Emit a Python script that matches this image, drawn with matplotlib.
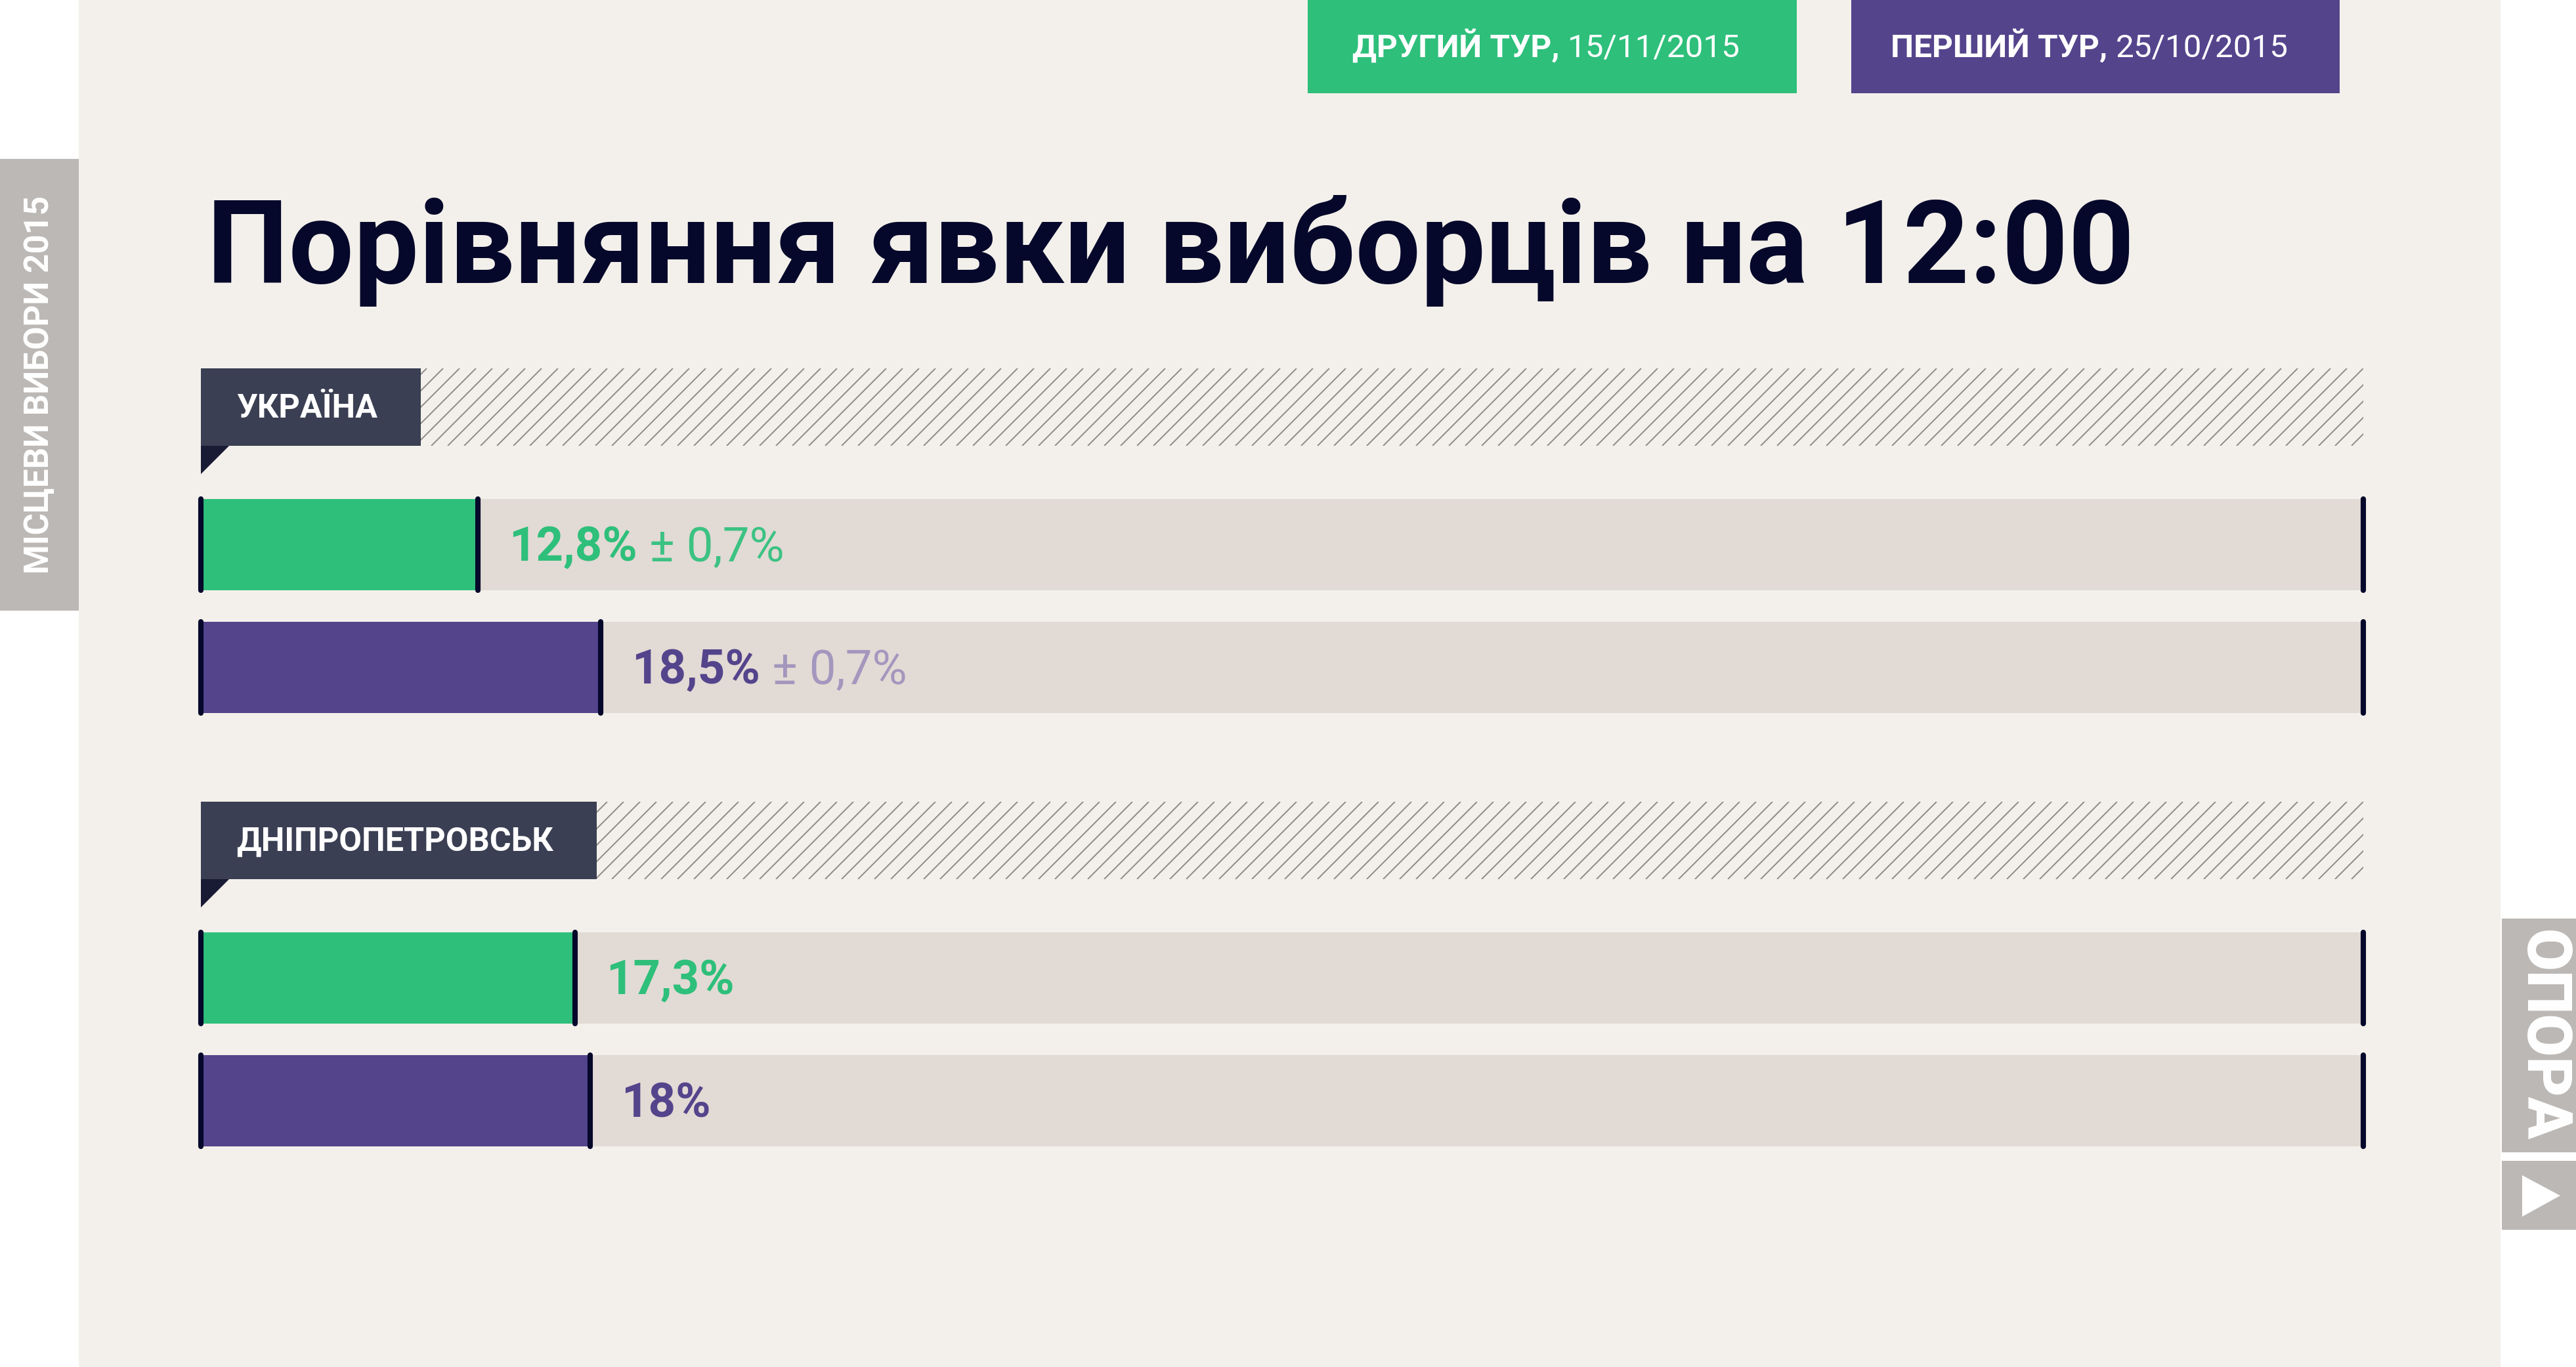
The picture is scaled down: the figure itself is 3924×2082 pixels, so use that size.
import matplotlib
matplotlib.use('Agg')
import matplotlib.pyplot as plt
import numpy as np
from matplotlib import font_manager
from matplotlib.patches import Rectangle, Polygon
from matplotlib.collections import LineCollection

W, H, DPI = 3924, 2082, 150

# ---- data ----
title = 'Порівняння явки виборців на 12:00'
side_label = 'МІСЦЕВИ ВИБОРИ 2015'
brand = 'ОПОРА'
regions = ['УКРАЇНА', 'ДНІПРОПЕТРОВСЬК']
round_names = ['ДРУГИЙ ТУР,', 'ПЕРШИЙ ТУР,']
round_dates = ['15/11/2015', '25/10/2015']
turnout_round2 = [12.8, 17.3]   # 15/11/2015
turnout_round1 = [18.5, 18.0]   # 25/10/2015
margin_err = [0.7, None]

# ---- style ----
BG = '#f3f0eb'
TRACK = '#e2dad4'
GREEN = '#2ebf7b'
GREEN_LIGHT = '#3cc283'
PURPLE = '#54448c'
PURPLE_LIGHT = '#a397be'
NAVY = '#05082a'
BOX = '#3b3f53'
TAIL = '#191a33'
GREY_TAB = '#bbb8b5'
HATCH = '#8f8d8b'


def has_font(name):
    try:
        font_manager.findfont(font_manager.FontProperties(family=name),
                              fallback_to_default=False)
        return True
    except ValueError:
        return False


MAIN = 'Roboto'
NARROW = 'Liberation Sans Narrow' if has_font('Liberation Sans Narrow') else 'Roboto'

fig = plt.figure(figsize=(W / DPI, H / DPI), dpi=DPI, facecolor='white')
ax = fig.add_axes([0, 0, 1, 1])
ax.set_xlim(0, W)
ax.set_ylim(H, 0)
ax.axis('off')
R = fig.canvas.get_renderer()


def rich(a, parts, size, x, y, ha='left'):
    """parts: (text, weight, color, family); placed one after another on a baseline"""
    ts = [a.text(x, y, s, fontsize=size, fontweight=wt, color=c, family=fam,
                 va='baseline', ha='left') for s, wt, c, fam in parts]
    ws = [t.get_window_extent(R).width for t in ts]
    gap = size * DPI / 72 * 0.25
    total = sum(ws) + gap * (len(ts) - 1)
    xd = a.transData.transform((x, y))[0] - (total / 2 if ha == 'center' else 0)
    inv = a.transData.inverted()
    for t, w in zip(ts, ws):
        t.set_x(inv.transform((xd, 0))[0])
        xd += w + gap
    return ts, total


def fitted(a, parts, width, x, y, ha='left', guess=30):
    ts, total = rich(a, parts, guess, x, y, ha)
    for t in ts:
        t.remove()
    size = guess * width / total
    ts, total = rich(a, parts, size, x, y, ha)
    return ts, size


def fit_rotated(t, length):
    t.set_fontsize(t.get_fontsize() * length / t.get_window_extent(R).height)


def hatch_strip(x0, x1, y0, y1, step=25):
    # 45 degree diagonal lines, clipped to the strip
    h = y1 - y0
    tops = np.arange(x0 - x0 % step, x1 + h + step, step)
    segs = [[(xt - h, y1), (xt, y0)] for xt in tops]
    lc = LineCollection(segs, colors=HATCH, linewidths=0.95)
    ax.add_collection(lc)
    lc.set_clip_path(Rectangle((x0, y0), x1 - x0, h, transform=ax.transData))


# panel background
ax.add_patch(Rectangle((120, 0), 3809 - 120, H, color=BG, lw=0))

# left tab
ax.add_patch(Rectangle((0, 242), 120, 930 - 242, color=GREY_TAB, lw=0))
t = ax.text(60, 586, side_label, rotation=90, ha='center', va='center',
            color='white', fontweight='bold', family=MAIN, fontsize=20)
fit_rotated(t, 576)

# right tab
ax.add_patch(Rectangle((3811, 1399), W - 3811, 1755 - 1399, color=GREY_TAB, lw=0))
ax.add_patch(Rectangle((3811, 1768), W - 3811, 1873 - 1768, color=GREY_TAB, lw=0))
t = ax.text(3873, 1577, brand, rotation=-90, ha='center', va='center',
            color='white', fontweight='heavy', family=MAIN, fontsize=20)
fit_rotated(t, 322)
ax.add_patch(Polygon([(3842, 1790), (3900, 1821), (3842, 1853)], color='white', lw=0))

# legend headers
hdr_boxes = [(1992, 2737, GREEN), (2820, 3564, PURPLE)]
hdr_size = None
for (x0, x1, c), name, date in zip(hdr_boxes, round_names, round_dates):
    ax.add_patch(Rectangle((x0, 0), x1 - x0, 142, color=c, lw=0))
    parts = [(name, 'bold', 'white', NARROW), (date, 'normal', 'white', NARROW)]
    if hdr_size is None:
        _, hdr_size = fitted(ax, parts, 591, (x0 + x1) / 2 - 9, 87, ha='center')
    else:
        rich(ax, parts, hdr_size, (x0 + x1) / 2 - 9, 87, ha='center')

# title
fitted(ax, [(title, 'bold', NAVY, MAIN)], 2934, 315, 431)

# bars
TRACK_X0, TRACK_X1 = 306, 3600
SECTION_TOP = [561, 1221]
ROW_CENTER = [268.5, 455.5]
BAR_H = 139

bx = fig.add_axes([TRACK_X0 / W, 0, (TRACK_X1 - TRACK_X0) / W, 1])
bx.set_xlim(0, 100)
bx.set_ylim(H, 0)
bx.axis('off')
bx.patch.set_visible(False)
px_per_unit = bx.transData.transform((1, 0))[0] - bx.transData.transform((0, 0))[0]


def fmt(v):
    return ('%g' % v).replace('.', ',') + '%'


lab_size = None
val_size = None
for i, region in enumerate(regions):
    top = SECTION_TOP[i]
    # region label box + hatched strip
    if lab_size is None:
        ts, lab_size = fitted(ax, [(regions[1], 'bold', 'white', NARROW)], 482, 360, top + 75)
        ts[0].remove()
    lt, _ = rich(ax, [(region, 'bold', 'white', NARROW)], lab_size, 360, top + 75)
    bb = lt[0].get_window_extent(R)
    box_r = ax.transData.inverted().transform((bb.x1, 0))[0] + 66
    ax.add_patch(Rectangle((TRACK_X0, top), box_r - TRACK_X0, 118, color=BOX, lw=0, zorder=1))
    lt[0].set_zorder(2)
    hatch_strip(box_r, TRACK_X1, top, top + 118)
    ax.add_patch(Polygon([(TRACK_X0, top + 118), (TRACK_X0 + 43, top + 118),
                          (TRACK_X0, top + 161)], color=TAIL, lw=0))

    series = [(turnout_round2[i], GREEN, GREEN_LIGHT), (turnout_round1[i], PURPLE, PURPLE_LIGHT)]
    for j, (v, c, c_light) in enumerate(series):
        yc = top + ROW_CENTER[j]
        bx.barh(yc, 100, height=BAR_H, color=TRACK, lw=0)
        bx.barh(yc, v, height=BAR_H, color=c, lw=0)
        caps = bx.vlines([0, v, 100], yc - BAR_H / 2, yc + BAR_H / 2, color=NAVY,
                         lw=3.9, clip_on=False, zorder=3)
        caps.set_capstyle('round')
        parts = [(fmt(v), 'bold', c, NARROW)]
        if margin_err[i] is not None:
            parts.append(('± ' + fmt(margin_err[i]), 'normal', c_light, NARROW))
        x_lab = v + 47 / px_per_unit
        if val_size is None:
            _, val_size = fitted(bx, parts, 420, x_lab, yc + 25)
        else:
            rich(bx, parts, val_size, x_lab, yc + 25)

fig.savefig('out.png', dpi=DPI, facecolor='white')
